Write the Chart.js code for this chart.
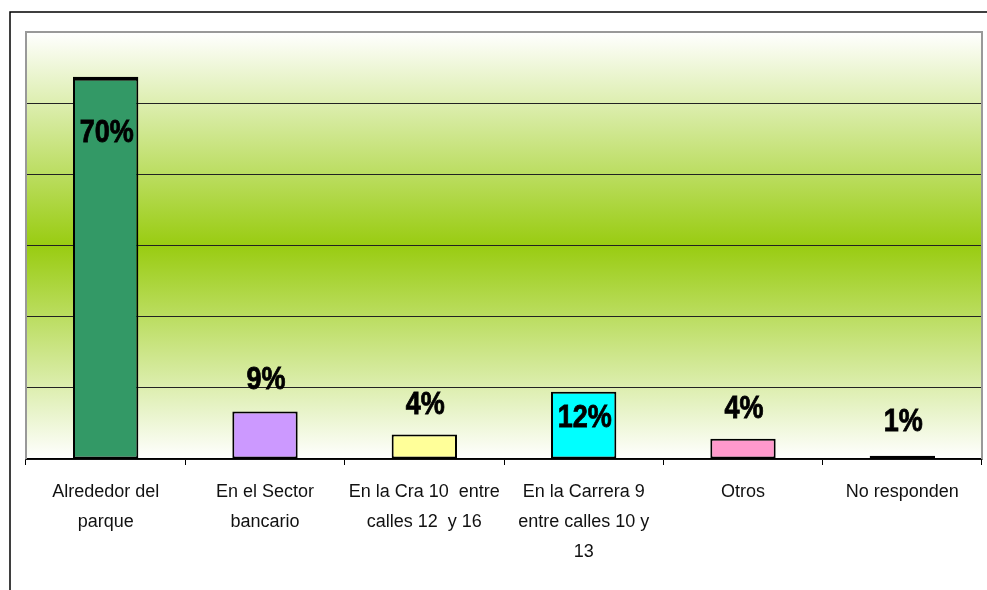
<!DOCTYPE html>
<html>
<head>
<meta charset="utf-8">
<script src="https://cdn.jsdelivr.net/npm/chart.js@4.4.0/dist/chart.umd.min.js"></script>
<style>
  html, body { margin: 0; padding: 0; background: #fff; }
  #wrap { width: 987px; height: 590px; position: relative; }
</style>
</head>
<body>
<div id="wrap"><canvas id="grafico"></canvas></div>
<script>
// categorias y valores (porcentaje)
var categorias = [
  ["Alrededor del", "parque"],
  ["En el Sector", "bancario"],
  ["En la Cra 10  entre", "calles 12  y 16"],
  ["En la Carrera 9", "entre calles 10 y", "13"],
  ["Otros"],
  ["No responden"]
];
var valores = [70, 8.7, 4.5, 12.3, 3.7, 0.6];
var etiquetas = ["70%", "9%", "4%", "12%", "4%", "1%"];
var colores = ["#339966", "#CC99FF", "#FFFF99", "#00FFFF", "#FF99CC", "#000000"];

// desplazamiento vertical de cada etiqueta respecto al tope de la barra
var desplEtiqueta = [57, -31, -29, 27, -29, -33];

var fondoPlugin = {
  id: "fondo",
  beforeDraw: function(chart) {
    var ctx = chart.ctx;
    var a = chart.chartArea;
    ctx.save();
    // marco exterior
    ctx.strokeStyle = "#000";
    ctx.lineWidth = 1.5;
    ctx.beginPath();
    ctx.moveTo(10, 590);
    ctx.lineTo(10, 12);
    ctx.lineTo(987, 12);
    ctx.stroke();
    // degradado verde
    var g = ctx.createLinearGradient(0, a.top, 0, a.bottom);
    g.addColorStop(0, "#ffffff");
    g.addColorStop(0.5, "#99cc11");
    g.addColorStop(1, "#ffffff");
    ctx.fillStyle = g;
    ctx.fillRect(a.left, a.top, a.right - a.left, a.bottom - a.top);
    ctx.restore();
  },
  beforeDatasetsDraw: function(chart) {
    var ctx = chart.ctx;
    var a = chart.chartArea;
    ctx.save();
    ctx.strokeStyle = "#999";
    ctx.lineWidth = 2;
    ctx.beginPath();
    ctx.moveTo(a.left, a.bottom);
    ctx.lineTo(a.left, a.top);
    ctx.lineTo(a.right, a.top);
    ctx.lineTo(a.right, a.bottom);
    ctx.stroke();
    ctx.restore();
  },
  afterDatasetsDraw: function(chart) {
    var ctx = chart.ctx;
    var meta = chart.getDatasetMeta(0);
    ctx.save();
    ctx.fillStyle = "#000";
    ctx.strokeStyle = "#000";
    ctx.lineWidth = 0.7;
    ctx.textAlign = "center";
    ctx.textBaseline = "middle";
    ctx.font = "bold 27px 'Liberation Sans', Arial, sans-serif";
    meta.data.forEach(function(bar, i) {
      ctx.save();
      ctx.translate(bar.x + 1, bar.y + desplEtiqueta[i]);
      ctx.scale(1, 1.15);
      ctx.fillText(etiquetas[i], 0, 0);
      ctx.strokeText(etiquetas[i], 0, 0);
      ctx.restore();
    });
    ctx.restore();
  }
};

var ctx = document.getElementById("grafico").getContext("2d");

var config = {
  type: "bar",
  data: {
    labels: categorias,
    datasets: [{
      data: valores,
      backgroundColor: colores,
      borderColor: "#000",
      borderWidth: function(c) {
        if (c.dataIndex === 0) return { top: 4, left: 2, right: 2, bottom: 2 };
        return 2;
      },
      borderSkipped: false,
      barPercentage: 0.41,
      categoryPercentage: 1
    }]
  },
  options: {
    responsive: false,
    animation: false,
    layout: { padding: { left: 26, top: 32, right: 5, bottom: 0 } },
    plugins: {
      legend: { display: false },
      tooltip: { enabled: false }
    },
    scales: {
      x: {
        grid: {
          display: true,
          offset: true,
          drawOnChartArea: false,
          drawTicks: true,
          tickLength: 6,
          color: "#000"
        },
        border: { display: true, color: "#000", width: 1.5 },
        ticks: {
          color: "#111",
          padding: 12,
          maxRotation: 0,
          autoSkip: false,
          font: { family: "'Liberation Sans', Arial, sans-serif", size: 18, lineHeight: 1.667 }
        },
        afterFit: function(s) { s.height = 131; }
      },
      y: {
        min: 0,
        max: 78.2,
        ticks: { display: false, stepSize: 13.03 },
        grid: {
          drawTicks: false,
          color: function(c) {
            return c.index === 6 ? "rgba(0,0,0,0)" : "#222";
          },
          lineWidth: 1
        },
        border: { display: false },
        afterFit: function(s) { s.width = 0; }
      }
    }
  },
  plugins: [fondoPlugin]
};

var canvas = document.getElementById("grafico");
canvas.width = 987;
canvas.height = 590;
var grafico = new Chart(ctx, config);
</script>
</body>
</html>
